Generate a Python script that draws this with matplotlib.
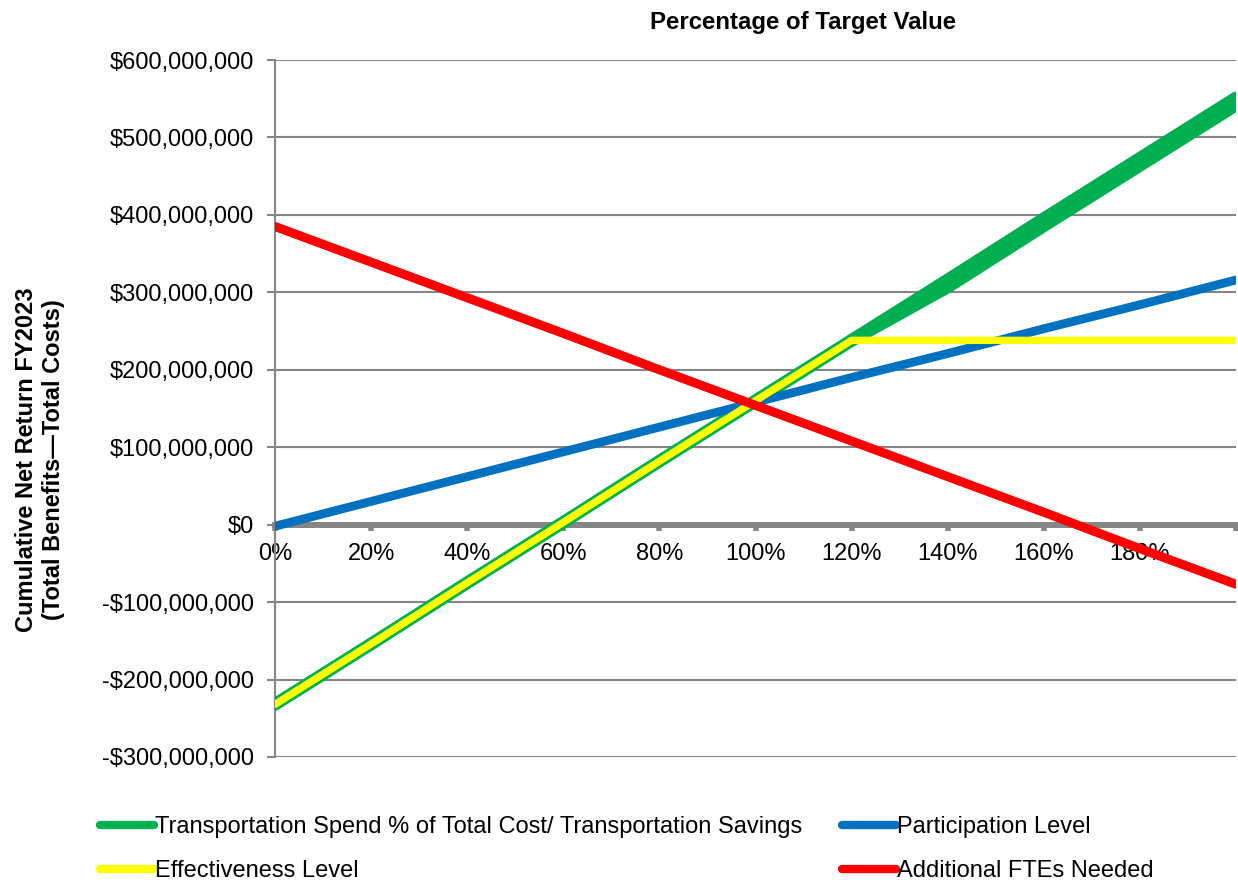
"This module produces the net return sensitivity chart"
import matplotlib
matplotlib.use('Agg')
import matplotlib.pyplot as plt
from matplotlib.lines import Line2D
from matplotlib.ticker import FuncFormatter

# percentage of target value (0% .. 200%)
pct = [0.0, 0.2, 0.4, 0.6, 0.8, 1.0, 1.2, 1.4, 1.6, 1.8, 2.0]

# cumulative net return, millions of dollars
transport = [-232, -154, -75, 3, 82, 160, 238, 316, 395, 473, 551]
# lower edge of the green band past the 120% kink
transport_low = [238, 307, 386, 464, 542]
participation = [-2, 30, 62, 94, 126, 158, 190, 221, 253, 284, 316]
effectiveness = [-232, -154, -75, 3, 82, 160, 238, 238, 238, 238, 238]
ftes = [385, 339, 293, 247, 200, 154, 108, 62, 16, -31, -77]

x_labels = ['0%', '20%', '40%', '60%', '80%', '100%', '120%', '140%', '160%', '180%', '']
y_ticks = [-300, -200, -100, 0, 100, 200, 300, 400, 500, 600]

labels = ['Transportation Spend % of Total Cost/ Transportation Savings',
          'Participation Level', 'Effectiveness Level', 'Additional FTEs Needed']
colors = ['#00B050', '#0070C0', '#FFFF00', '#FF0000']

plt.rcParams['font.family'] = ['Liberation Sans', 'DejaVu Sans']
grey = '#868686'

fig = plt.figure(figsize=(12.38, 8.82), dpi=100)
ax = fig.add_axes([275/1238, 1-757/882, 961/1238, 697/882])

def money(v, pos):
    v = int(round(v * 1e6))
    if v < 0:
        return '-${:,}'.format(-v)
    return '${:,}'.format(v)

ax.plot(pct, transport, color=colors[0], lw=9.2, solid_capstyle='round', zorder=3)
ax.plot(pct[6:], transport_low, color=colors[0], lw=9.2, solid_capstyle='round', zorder=3)
ax.plot(pct, participation, color=colors[1], lw=6.3, solid_capstyle='round', zorder=4)
ax.plot(pct, effectiveness, color=colors[2], lw=5.3, solid_capstyle='round',
        solid_joinstyle='round', zorder=5)
ax.plot(pct, ftes, color=colors[3], lw=6.5, solid_capstyle='round', zorder=6)

ax.set_xlim(0, 2)
ax.set_ylim(-300, 600)
ax.set_yticks(y_ticks)
ax.yaxis.set_major_formatter(FuncFormatter(money))
ax.set_xticks(pct)
ax.set_xticklabels(x_labels)
ax.grid(axis='y', color=grey, lw=1.5, zorder=1)
ax.set_axisbelow(True)

for s in ['top', 'right']:
    ax.spines[s].set_visible(False)
ax.spines['left'].set_color(grey)
ax.spines['left'].set_linewidth(1.5)
ax.spines['bottom'].set_position(('data', 0))
ax.spines['bottom'].set_color(grey)
ax.spines['bottom'].set_linewidth(4.3)
ax.spines['bottom'].set_zorder(2)
ax.tick_params(axis='y', colors=grey, width=1.5, length=6, labelsize=17, labelcolor='black', pad=9)
ax.tick_params(axis='x', colors=grey, width=4, length=4, labelsize=17, labelcolor='black', pad=9)

fig.text(803/1238, 1-22/882, 'Percentage of Target Value', fontsize=17.3, fontweight='bold',
         ha='center', va='center')
fig.text(40/1238, 1-460/882, 'Cumulative Net Return FY2023\n(Total Benefits\u2014Total Costs)',
         fontsize=17, fontweight='bold', rotation=90, ha='center', va='center',
         multialignment='center')

# legend fills column by column, so order it to read row by row like the original
order = [0, 2, 1, 3]
handles = [Line2D([], [], color=colors[i], lw=6, solid_capstyle='round') for i in order]
fig.legend(handles, [labels[i] for i in order], ncol=2, loc='upper left',
           bbox_to_anchor=(100/1238, 1-816/882), frameon=False, fontsize=17,
           handlelength=2.3, handletextpad=0.05, columnspacing=1.65, labelspacing=0.95,
           borderpad=0, borderaxespad=0)

plt.savefig('out.png', dpi=100)
